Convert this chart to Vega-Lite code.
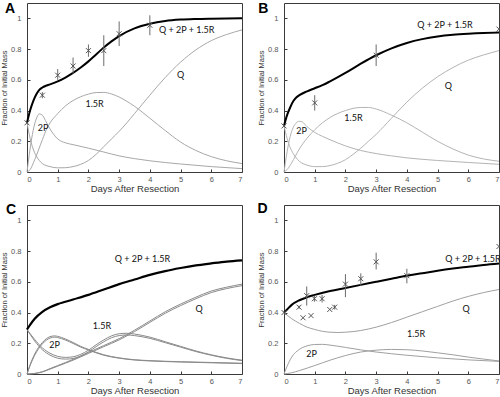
{
"$schema": "https://vega.github.io/schema/vega-lite/v6.json",
"padding": {"left": 0, "top": 1, "right": 0, "bottom": 0},
"background": "white",
"config": {
  "font": "Liberation Sans",
  "view": {"stroke": "#3a3a3a", "strokeWidth": 1},
  "axis": {"domain": false, "grid": false, "ticks": true, "tickSize": -3, "tickColor": "#3a3a3a", "labelFont": "Liberation Sans", "labelFontSize": 7.5, "labelColor": "#555555", "titleFont": "Liberation Sans", "titleFontWeight": "normal", "titleColor": "#333333"},
  "axisX": {"labelPadding": 6, "titleFontSize": 9.5, "titlePadding": 1},
  "axisY": {"labelPadding": 9, "titleFontSize": 7.5, "titlePadding": 2}
},
"datasets": {
"curves": [
{"p":"A","s":"sum","x":0,"y":0.32},{"p":"A","s":"sum","x":0.1,"y":0.4},{"p":"A","s":"sum","x":0.2,"y":0.46},{"p":"A","s":"sum","x":0.3,"y":0.505},{"p":"A","s":"sum","x":0.4,"y":0.535},{"p":"A","s":"sum","x":0.5,"y":0.55},{"p":"A","s":"sum","x":0.6,"y":0.56},{"p":"A","s":"sum","x":0.75,"y":0.57},{"p":"A","s":"sum","x":1,"y":0.59},{"p":"A","s":"sum","x":1.25,"y":0.615},{"p":"A","s":"sum","x":1.5,"y":0.645},{"p":"A","s":"sum","x":1.75,"y":0.68},{"p":"A","s":"sum","x":2,"y":0.72},{"p":"A","s":"sum","x":2.25,"y":0.765},{"p":"A","s":"sum","x":2.5,"y":0.81},{"p":"A","s":"sum","x":2.75,"y":0.85},{"p":"A","s":"sum","x":3,"y":0.885},{"p":"A","s":"sum","x":3.5,"y":0.935},{"p":"A","s":"sum","x":4,"y":0.965},{"p":"A","s":"sum","x":4.5,"y":0.983},{"p":"A","s":"sum","x":5,"y":0.992},{"p":"A","s":"sum","x":5.5,"y":0.996},{"p":"A","s":"sum","x":6,"y":0.998},{"p":"A","s":"sum","x":7,"y":1.0},
{"p":"A","s":"Q","x":0,"y":0.32},{"p":"A","s":"Q","x":0.1,"y":0.22},{"p":"A","s":"Q","x":0.2,"y":0.15},{"p":"A","s":"Q","x":0.3,"y":0.105},{"p":"A","s":"Q","x":0.4,"y":0.075},{"p":"A","s":"Q","x":0.5,"y":0.055},{"p":"A","s":"Q","x":0.75,"y":0.035},{"p":"A","s":"Q","x":1,"y":0.027},{"p":"A","s":"Q","x":1.25,"y":0.028},{"p":"A","s":"Q","x":1.5,"y":0.035},{"p":"A","s":"Q","x":1.75,"y":0.05},{"p":"A","s":"Q","x":2,"y":0.075},{"p":"A","s":"Q","x":2.25,"y":0.115},{"p":"A","s":"Q","x":2.5,"y":0.165},{"p":"A","s":"Q","x":2.75,"y":0.215},{"p":"A","s":"Q","x":3,"y":0.265},{"p":"A","s":"Q","x":3.25,"y":0.32},{"p":"A","s":"Q","x":3.5,"y":0.38},{"p":"A","s":"Q","x":3.75,"y":0.44},{"p":"A","s":"Q","x":4,"y":0.5},{"p":"A","s":"Q","x":4.5,"y":0.615},{"p":"A","s":"Q","x":5,"y":0.715},{"p":"A","s":"Q","x":5.5,"y":0.795},{"p":"A","s":"Q","x":6,"y":0.855},{"p":"A","s":"Q","x":6.5,"y":0.895},{"p":"A","s":"Q","x":7,"y":0.925},
{"p":"A","s":"2P","x":0,"y":0},{"p":"A","s":"2P","x":0.1,"y":0.15},{"p":"A","s":"2P","x":0.2,"y":0.27},{"p":"A","s":"2P","x":0.3,"y":0.345},{"p":"A","s":"2P","x":0.4,"y":0.378},{"p":"A","s":"2P","x":0.5,"y":0.37},{"p":"A","s":"2P","x":0.6,"y":0.335},{"p":"A","s":"2P","x":0.75,"y":0.28},{"p":"A","s":"2P","x":1,"y":0.215},{"p":"A","s":"2P","x":1.25,"y":0.19},{"p":"A","s":"2P","x":1.5,"y":0.178},{"p":"A","s":"2P","x":2,"y":0.155},{"p":"A","s":"2P","x":2.5,"y":0.13},{"p":"A","s":"2P","x":3,"y":0.105},{"p":"A","s":"2P","x":3.5,"y":0.087},{"p":"A","s":"2P","x":4,"y":0.073},{"p":"A","s":"2P","x":5,"y":0.052},{"p":"A","s":"2P","x":6,"y":0.035},{"p":"A","s":"2P","x":7,"y":0.022},
{"p":"A","s":"R","x":0,"y":0},{"p":"A","s":"R","x":0.1,"y":0.015},{"p":"A","s":"R","x":0.25,"y":0.08},{"p":"A","s":"R","x":0.5,"y":0.21},{"p":"A","s":"R","x":0.65,"y":0.285},{"p":"A","s":"R","x":0.75,"y":0.32},{"p":"A","s":"R","x":1,"y":0.38},{"p":"A","s":"R","x":1.25,"y":0.43},{"p":"A","s":"R","x":1.5,"y":0.465},{"p":"A","s":"R","x":1.75,"y":0.49},{"p":"A","s":"R","x":2,"y":0.507},{"p":"A","s":"R","x":2.25,"y":0.517},{"p":"A","s":"R","x":2.5,"y":0.518},{"p":"A","s":"R","x":2.75,"y":0.508},{"p":"A","s":"R","x":3,"y":0.488},{"p":"A","s":"R","x":3.25,"y":0.46},{"p":"A","s":"R","x":3.5,"y":0.428},{"p":"A","s":"R","x":3.75,"y":0.39},{"p":"A","s":"R","x":4,"y":0.35},{"p":"A","s":"R","x":4.5,"y":0.27},{"p":"A","s":"R","x":5,"y":0.195},{"p":"A","s":"R","x":5.5,"y":0.14},{"p":"A","s":"R","x":6,"y":0.1},{"p":"A","s":"R","x":6.5,"y":0.073},{"p":"A","s":"R","x":7,"y":0.055},
{"p":"B","s":"sum","x":0,"y":0.3},{"p":"B","s":"sum","x":0.1,"y":0.37},{"p":"B","s":"sum","x":0.2,"y":0.42},{"p":"B","s":"sum","x":0.3,"y":0.46},{"p":"B","s":"sum","x":0.4,"y":0.485},{"p":"B","s":"sum","x":0.5,"y":0.5},{"p":"B","s":"sum","x":0.75,"y":0.525},{"p":"B","s":"sum","x":1,"y":0.545},{"p":"B","s":"sum","x":1.25,"y":0.565},{"p":"B","s":"sum","x":1.5,"y":0.59},{"p":"B","s":"sum","x":2,"y":0.645},{"p":"B","s":"sum","x":2.5,"y":0.705},{"p":"B","s":"sum","x":3,"y":0.76},{"p":"B","s":"sum","x":3.5,"y":0.805},{"p":"B","s":"sum","x":4,"y":0.84},{"p":"B","s":"sum","x":4.5,"y":0.865},{"p":"B","s":"sum","x":5,"y":0.882},{"p":"B","s":"sum","x":5.5,"y":0.893},{"p":"B","s":"sum","x":6,"y":0.9},{"p":"B","s":"sum","x":6.5,"y":0.905},{"p":"B","s":"sum","x":7,"y":0.908},
{"p":"B","s":"Q","x":0,"y":0.3},{"p":"B","s":"Q","x":0.1,"y":0.22},{"p":"B","s":"Q","x":0.2,"y":0.16},{"p":"B","s":"Q","x":0.3,"y":0.12},{"p":"B","s":"Q","x":0.5,"y":0.07},{"p":"B","s":"Q","x":0.75,"y":0.045},{"p":"B","s":"Q","x":1,"y":0.035},{"p":"B","s":"Q","x":1.25,"y":0.035},{"p":"B","s":"Q","x":1.5,"y":0.042},{"p":"B","s":"Q","x":1.75,"y":0.057},{"p":"B","s":"Q","x":2,"y":0.08},{"p":"B","s":"Q","x":2.25,"y":0.115},{"p":"B","s":"Q","x":2.5,"y":0.155},{"p":"B","s":"Q","x":2.75,"y":0.2},{"p":"B","s":"Q","x":3,"y":0.245},{"p":"B","s":"Q","x":3.5,"y":0.35},{"p":"B","s":"Q","x":4,"y":0.455},{"p":"B","s":"Q","x":4.5,"y":0.545},{"p":"B","s":"Q","x":5,"y":0.62},{"p":"B","s":"Q","x":5.5,"y":0.68},{"p":"B","s":"Q","x":6,"y":0.728},{"p":"B","s":"Q","x":6.5,"y":0.762},{"p":"B","s":"Q","x":7,"y":0.79},
{"p":"B","s":"2P","x":0,"y":0},{"p":"B","s":"2P","x":0.1,"y":0.13},{"p":"B","s":"2P","x":0.2,"y":0.23},{"p":"B","s":"2P","x":0.3,"y":0.29},{"p":"B","s":"2P","x":0.4,"y":0.32},{"p":"B","s":"2P","x":0.5,"y":0.33},{"p":"B","s":"2P","x":0.6,"y":0.325},{"p":"B","s":"2P","x":0.75,"y":0.295},{"p":"B","s":"2P","x":1,"y":0.258},{"p":"B","s":"2P","x":1.25,"y":0.232},{"p":"B","s":"2P","x":1.5,"y":0.21},{"p":"B","s":"2P","x":2,"y":0.17},{"p":"B","s":"2P","x":2.5,"y":0.14},{"p":"B","s":"2P","x":3,"y":0.12},{"p":"B","s":"2P","x":3.5,"y":0.105},{"p":"B","s":"2P","x":4,"y":0.092},{"p":"B","s":"2P","x":5,"y":0.075},{"p":"B","s":"2P","x":6,"y":0.062},{"p":"B","s":"2P","x":7,"y":0.05},
{"p":"B","s":"R","x":0,"y":0},{"p":"B","s":"R","x":0.1,"y":0.015},{"p":"B","s":"R","x":0.25,"y":0.06},{"p":"B","s":"R","x":0.5,"y":0.15},{"p":"B","s":"R","x":0.75,"y":0.22},{"p":"B","s":"R","x":1,"y":0.275},{"p":"B","s":"R","x":1.25,"y":0.32},{"p":"B","s":"R","x":1.5,"y":0.355},{"p":"B","s":"R","x":2,"y":0.4},{"p":"B","s":"R","x":2.5,"y":0.42},{"p":"B","s":"R","x":2.75,"y":0.42},{"p":"B","s":"R","x":3,"y":0.41},{"p":"B","s":"R","x":3.5,"y":0.37},{"p":"B","s":"R","x":4,"y":0.32},{"p":"B","s":"R","x":4.5,"y":0.26},{"p":"B","s":"R","x":5,"y":0.2},{"p":"B","s":"R","x":5.5,"y":0.15},{"p":"B","s":"R","x":6,"y":0.11},{"p":"B","s":"R","x":6.5,"y":0.085},{"p":"B","s":"R","x":7,"y":0.07},
{"p":"C","s":"sum","x":0,"y":0.29},{"p":"C","s":"sum","x":0.1,"y":0.32},{"p":"C","s":"sum","x":0.25,"y":0.36},{"p":"C","s":"sum","x":0.5,"y":0.405},{"p":"C","s":"sum","x":0.75,"y":0.435},{"p":"C","s":"sum","x":1,"y":0.455},{"p":"C","s":"sum","x":1.25,"y":0.47},{"p":"C","s":"sum","x":1.5,"y":0.485},{"p":"C","s":"sum","x":2,"y":0.515},{"p":"C","s":"sum","x":2.5,"y":0.55},{"p":"C","s":"sum","x":3,"y":0.585},{"p":"C","s":"sum","x":3.5,"y":0.615},{"p":"C","s":"sum","x":4,"y":0.645},{"p":"C","s":"sum","x":4.5,"y":0.67},{"p":"C","s":"sum","x":5,"y":0.69},{"p":"C","s":"sum","x":5.5,"y":0.707},{"p":"C","s":"sum","x":6,"y":0.72},{"p":"C","s":"sum","x":6.5,"y":0.732},{"p":"C","s":"sum","x":7,"y":0.74},
{"p":"C","s":"R","x":0,"y":0.29},{"p":"C","s":"R","x":0.25,"y":0.225},{"p":"C","s":"R","x":0.5,"y":0.17},{"p":"C","s":"R","x":0.75,"y":0.135},{"p":"C","s":"R","x":1,"y":0.115},{"p":"C","s":"R","x":1.25,"y":0.108},{"p":"C","s":"R","x":1.5,"y":0.112},{"p":"C","s":"R","x":1.75,"y":0.128},{"p":"C","s":"R","x":2,"y":0.155},{"p":"C","s":"R","x":2.25,"y":0.19},{"p":"C","s":"R","x":2.5,"y":0.222},{"p":"C","s":"R","x":2.75,"y":0.248},{"p":"C","s":"R","x":3,"y":0.262},{"p":"C","s":"R","x":3.25,"y":0.265},{"p":"C","s":"R","x":3.5,"y":0.26},{"p":"C","s":"R","x":4,"y":0.24},{"p":"C","s":"R","x":4.5,"y":0.21},{"p":"C","s":"R","x":5,"y":0.18},{"p":"C","s":"R","x":5.5,"y":0.15},{"p":"C","s":"R","x":6,"y":0.125},{"p":"C","s":"R","x":6.5,"y":0.105},{"p":"C","s":"R","x":7,"y":0.09},
{"p":"C","s":"R2","x":0,"y":0.29},{"p":"C","s":"R2","x":0.25,"y":0.215},{"p":"C","s":"R2","x":0.5,"y":0.158},{"p":"C","s":"R2","x":0.75,"y":0.123},{"p":"C","s":"R2","x":1,"y":0.103},{"p":"C","s":"R2","x":1.25,"y":0.097},{"p":"C","s":"R2","x":1.5,"y":0.101},{"p":"C","s":"R2","x":1.75,"y":0.117},{"p":"C","s":"R2","x":2,"y":0.144},{"p":"C","s":"R2","x":2.25,"y":0.178},{"p":"C","s":"R2","x":2.5,"y":0.21},{"p":"C","s":"R2","x":2.75,"y":0.236},{"p":"C","s":"R2","x":3,"y":0.25},{"p":"C","s":"R2","x":3.25,"y":0.254},{"p":"C","s":"R2","x":3.5,"y":0.25},{"p":"C","s":"R2","x":4,"y":0.232},{"p":"C","s":"R2","x":4.5,"y":0.204},{"p":"C","s":"R2","x":5,"y":0.175},{"p":"C","s":"R2","x":5.5,"y":0.146},{"p":"C","s":"R2","x":6,"y":0.122},{"p":"C","s":"R2","x":6.5,"y":0.102},{"p":"C","s":"R2","x":7,"y":0.087},
{"p":"C","s":"2P","x":0,"y":0},{"p":"C","s":"2P","x":0.1,"y":0.06},{"p":"C","s":"2P","x":0.25,"y":0.13},{"p":"C","s":"2P","x":0.5,"y":0.205},{"p":"C","s":"2P","x":0.75,"y":0.243},{"p":"C","s":"2P","x":0.9,"y":0.248},{"p":"C","s":"2P","x":1,"y":0.245},{"p":"C","s":"2P","x":1.25,"y":0.228},{"p":"C","s":"2P","x":1.5,"y":0.205},{"p":"C","s":"2P","x":1.75,"y":0.18},{"p":"C","s":"2P","x":2,"y":0.16},{"p":"C","s":"2P","x":2.5,"y":0.125},{"p":"C","s":"2P","x":3,"y":0.105},{"p":"C","s":"2P","x":3.5,"y":0.093},{"p":"C","s":"2P","x":4,"y":0.087},{"p":"C","s":"2P","x":5,"y":0.08},{"p":"C","s":"2P","x":6,"y":0.075},{"p":"C","s":"2P","x":7,"y":0.07},
{"p":"C","s":"2P2","x":0,"y":0},{"p":"C","s":"2P2","x":0.1,"y":0.055},{"p":"C","s":"2P2","x":0.25,"y":0.122},{"p":"C","s":"2P2","x":0.5,"y":0.196},{"p":"C","s":"2P2","x":0.75,"y":0.234},{"p":"C","s":"2P2","x":0.9,"y":0.24},{"p":"C","s":"2P2","x":1,"y":0.237},{"p":"C","s":"2P2","x":1.25,"y":0.221},{"p":"C","s":"2P2","x":1.5,"y":0.199},{"p":"C","s":"2P2","x":1.75,"y":0.175},{"p":"C","s":"2P2","x":2,"y":0.156},{"p":"C","s":"2P2","x":2.5,"y":0.122},{"p":"C","s":"2P2","x":3,"y":0.103},{"p":"C","s":"2P2","x":3.5,"y":0.091},{"p":"C","s":"2P2","x":4,"y":0.085},{"p":"C","s":"2P2","x":5,"y":0.078},{"p":"C","s":"2P2","x":6,"y":0.073},{"p":"C","s":"2P2","x":7,"y":0.068},
{"p":"C","s":"Q","x":0,"y":0},{"p":"C","s":"Q","x":0.25,"y":0.004},{"p":"C","s":"Q","x":0.5,"y":0.015},{"p":"C","s":"Q","x":0.75,"y":0.035},{"p":"C","s":"Q","x":1,"y":0.055},{"p":"C","s":"Q","x":1.5,"y":0.095},{"p":"C","s":"Q","x":2,"y":0.14},{"p":"C","s":"Q","x":2.5,"y":0.185},{"p":"C","s":"Q","x":3,"y":0.23},{"p":"C","s":"Q","x":3.5,"y":0.285},{"p":"C","s":"Q","x":4,"y":0.345},{"p":"C","s":"Q","x":4.5,"y":0.405},{"p":"C","s":"Q","x":5,"y":0.455},{"p":"C","s":"Q","x":5.5,"y":0.5},{"p":"C","s":"Q","x":6,"y":0.54},{"p":"C","s":"Q","x":6.5,"y":0.565},{"p":"C","s":"Q","x":7,"y":0.585},
{"p":"C","s":"Q2","x":0,"y":0},{"p":"C","s":"Q2","x":0.25,"y":0.003},{"p":"C","s":"Q2","x":0.5,"y":0.013},{"p":"C","s":"Q2","x":0.75,"y":0.032},{"p":"C","s":"Q2","x":1,"y":0.051},{"p":"C","s":"Q2","x":1.5,"y":0.09},{"p":"C","s":"Q2","x":2,"y":0.134},{"p":"C","s":"Q2","x":2.5,"y":0.178},{"p":"C","s":"Q2","x":3,"y":0.222},{"p":"C","s":"Q2","x":3.5,"y":0.276},{"p":"C","s":"Q2","x":4,"y":0.336},{"p":"C","s":"Q2","x":4.5,"y":0.395},{"p":"C","s":"Q2","x":5,"y":0.445},{"p":"C","s":"Q2","x":5.5,"y":0.49},{"p":"C","s":"Q2","x":6,"y":0.53},{"p":"C","s":"Q2","x":6.5,"y":0.556},{"p":"C","s":"Q2","x":7,"y":0.575},
{"p":"D","s":"sum","x":0,"y":0.4},{"p":"D","s":"sum","x":0.1,"y":0.42},{"p":"D","s":"sum","x":0.25,"y":0.45},{"p":"D","s":"sum","x":0.5,"y":0.48},{"p":"D","s":"sum","x":0.75,"y":0.5},{"p":"D","s":"sum","x":1,"y":0.515},{"p":"D","s":"sum","x":1.5,"y":0.54},{"p":"D","s":"sum","x":2,"y":0.56},{"p":"D","s":"sum","x":2.5,"y":0.58},{"p":"D","s":"sum","x":3,"y":0.6},{"p":"D","s":"sum","x":3.5,"y":0.62},{"p":"D","s":"sum","x":4,"y":0.64},{"p":"D","s":"sum","x":4.5,"y":0.656},{"p":"D","s":"sum","x":5,"y":0.672},{"p":"D","s":"sum","x":5.5,"y":0.686},{"p":"D","s":"sum","x":6,"y":0.698},{"p":"D","s":"sum","x":6.5,"y":0.71},{"p":"D","s":"sum","x":7,"y":0.72},
{"p":"D","s":"Q","x":0,"y":0.4},{"p":"D","s":"Q","x":0.25,"y":0.36},{"p":"D","s":"Q","x":0.5,"y":0.33},{"p":"D","s":"Q","x":0.75,"y":0.305},{"p":"D","s":"Q","x":1,"y":0.29},{"p":"D","s":"Q","x":1.25,"y":0.278},{"p":"D","s":"Q","x":1.5,"y":0.272},{"p":"D","s":"Q","x":1.75,"y":0.27},{"p":"D","s":"Q","x":2,"y":0.272},{"p":"D","s":"Q","x":2.5,"y":0.283},{"p":"D","s":"Q","x":3,"y":0.305},{"p":"D","s":"Q","x":3.5,"y":0.335},{"p":"D","s":"Q","x":4,"y":0.37},{"p":"D","s":"Q","x":4.5,"y":0.405},{"p":"D","s":"Q","x":5,"y":0.44},{"p":"D","s":"Q","x":5.5,"y":0.475},{"p":"D","s":"Q","x":6,"y":0.505},{"p":"D","s":"Q","x":6.5,"y":0.53},{"p":"D","s":"Q","x":7,"y":0.55},
{"p":"D","s":"2P","x":0,"y":0},{"p":"D","s":"2P","x":0.1,"y":0.05},{"p":"D","s":"2P","x":0.25,"y":0.11},{"p":"D","s":"2P","x":0.5,"y":0.16},{"p":"D","s":"2P","x":0.75,"y":0.183},{"p":"D","s":"2P","x":1,"y":0.192},{"p":"D","s":"2P","x":1.25,"y":0.193},{"p":"D","s":"2P","x":1.5,"y":0.188},{"p":"D","s":"2P","x":2,"y":0.173},{"p":"D","s":"2P","x":2.5,"y":0.157},{"p":"D","s":"2P","x":3,"y":0.143},{"p":"D","s":"2P","x":3.5,"y":0.132},{"p":"D","s":"2P","x":4,"y":0.122},{"p":"D","s":"2P","x":5,"y":0.105},{"p":"D","s":"2P","x":6,"y":0.092},{"p":"D","s":"2P","x":7,"y":0.082},
{"p":"D","s":"R","x":0,"y":0},{"p":"D","s":"R","x":0.25,"y":0.008},{"p":"D","s":"R","x":0.5,"y":0.022},{"p":"D","s":"R","x":1,"y":0.055},{"p":"D","s":"R","x":1.5,"y":0.09},{"p":"D","s":"R","x":2,"y":0.12},{"p":"D","s":"R","x":2.5,"y":0.143},{"p":"D","s":"R","x":3,"y":0.155},{"p":"D","s":"R","x":3.5,"y":0.16},{"p":"D","s":"R","x":4,"y":0.158},{"p":"D","s":"R","x":4.5,"y":0.15},{"p":"D","s":"R","x":5,"y":0.138},{"p":"D","s":"R","x":5.5,"y":0.125},{"p":"D","s":"R","x":6,"y":0.11},{"p":"D","s":"R","x":6.5,"y":0.097},{"p":"D","s":"R","x":7,"y":0.085}
],
"pts": [
{"p":"A","x":0,"y":0.32},{"p":"A","x":0.5,"y":0.5,"lo":0.48,"hi":0.52},{"p":"A","x":1,"y":0.63,"lo":0.6,"hi":0.67},{"p":"A","x":1.5,"y":0.69,"lo":0.64,"hi":0.745},{"p":"A","x":2,"y":0.79,"lo":0.75,"hi":0.83},{"p":"A","x":2.5,"y":0.79,"lo":0.69,"hi":0.89},{"p":"A","x":3,"y":0.9,"lo":0.82,"hi":0.98},{"p":"A","x":4,"y":0.955,"lo":0.89,"hi":1.02},
{"p":"B","x":0,"y":0.3},{"p":"B","x":1,"y":0.45,"lo":0.4,"hi":0.5},{"p":"B","x":3,"y":0.76,"lo":0.69,"hi":0.83},{"p":"B","x":7,"y":0.93},
{"p":"D","x":0,"y":0.4},{"p":"D","x":0.49,"y":0.435,"lo":0.425,"hi":0.445},{"p":"D","x":0.62,"y":0.366},{"p":"D","x":0.74,"y":0.51,"lo":0.445,"hi":0.57},{"p":"D","x":0.88,"y":0.38},{"p":"D","x":0.99,"y":0.49,"lo":0.47,"hi":0.51},{"p":"D","x":1.24,"y":0.49,"lo":0.465,"hi":0.515},{"p":"D","x":1.49,"y":0.42},{"p":"D","x":1.65,"y":0.435,"lo":0.42,"hi":0.45},{"p":"D","x":2,"y":0.585,"lo":0.5,"hi":0.65},{"p":"D","x":2.5,"y":0.62,"lo":0.575,"hi":0.655},{"p":"D","x":3,"y":0.73,"lo":0.68,"hi":0.79},{"p":"D","x":4,"y":0.64,"lo":0.59,"hi":0.685},{"p":"D","x":7,"y":0.83}
],
"lbl": [
{"p":"A","x":5.2,"y":0.925,"t":"Q + 2P + 1.5R"},{"p":"A","x":5.0,"y":0.63,"t":"Q"},{"p":"A","x":0.52,"y":0.287,"t":"2P"},{"p":"A","x":2.2,"y":0.44,"t":"1.5R"},
{"p":"B","x":5.24,"y":0.957,"t":"Q + 2P + 1.5R"},{"p":"B","x":5.35,"y":0.557,"t":"Q"},{"p":"B","x":0.57,"y":0.266,"t":"2P"},{"p":"B","x":2.26,"y":0.35,"t":"1.5R"},
{"p":"C","x":3.76,"y":0.75,"t":"Q + 2P + 1.5R"},{"p":"C","x":5.6,"y":0.42,"t":"Q"},{"p":"C","x":0.9,"y":0.19,"t":"2P"},{"p":"C","x":2.44,"y":0.31,"t":"1.5R"},
{"p":"D","x":6.15,"y":0.75,"t":"Q + 2P + 1.5R"},{"p":"D","x":5.93,"y":0.42,"t":"Q"},{"p":"D","x":0.9,"y":0.128,"t":"2P"},{"p":"D","x":4.3,"y":0.26,"t":"1.5R"}
],
"letters": [
{"p":"A","x":-0.55,"y":1.06,"t":"A"},{"p":"B","x":-0.67,"y":1.06,"t":"B"},{"p":"C","x":-0.52,"y":1.07,"t":"C"},{"p":"D","x":-0.7,"y":1.075,"t":"D"}
]
},
"columns": 2,
"bounds": "flush",
"spacing": {"row": 33, "column": 42},
"concat": [
{
 "width": 215, "height": 169,
 "encoding": {
  "x": {"field": "x", "type": "quantitative", "scale": {"domain": [0, 7], "nice": false}, "axis": {"values": [0,1,2,3,4,5,6,7], "title": "Days After Resection"}},
  "y": {"field": "y", "type": "quantitative", "scale": {"domain": [0, 1.1], "nice": false}, "axis": {"values": [0,0.2,0.4,0.6,0.8,1], "format": "~g", "title": "Fraction of Initial Mass"}}
 },
 "layer": [
  {"data": {"name": "curves"}, "transform": [{"filter": "datum.p == 'A' && datum.s != 'sum'"}], "mark": {"type": "line", "interpolate": "monotone", "color": "#a8a8a8", "strokeWidth": 1}, "encoding": {"detail": {"field": "s"}}},
  {"data": {"name": "curves"}, "transform": [{"filter": "datum.p == 'A' && datum.s == 'sum'"}], "mark": {"type": "line", "interpolate": "monotone", "color": "#000000", "strokeWidth": 2}},
  {"data": {"name": "pts"}, "transform": [{"filter": "datum.p == 'A' && isValid(datum.lo)"}], "mark": {"type": "rule", "color": "#6a6a6a", "strokeWidth": 1}, "encoding": {"y": {"field": "lo", "type": "quantitative", "title": "Fraction of Initial Mass"}, "y2": {"field": "hi"}}},
  {"data": {"name": "pts"}, "transform": [{"filter": "datum.p == 'A'"}], "mark": {"type": "point", "shape": "M-1,-1L1,1M1,-1L-1,1", "size": 25, "filled": false, "stroke": "#555555", "strokeWidth": 1, "opacity": 1}},
  {"data": {"name": "lbl"}, "transform": [{"filter": "datum.p == 'A'"}], "mark": {"type": "text", "font": "Lato", "fontSize": 9, "color": "#111111", "align": "center", "baseline": "middle"}, "encoding": {"text": {"field": "t"}}},
  {"data": {"name": "letters"}, "transform": [{"filter": "datum.p == 'A'"}], "mark": {"type": "text", "font": "Liberation Sans", "fontSize": 14, "fontWeight": "bold", "color": "#000000", "align": "center", "baseline": "middle"}, "encoding": {"text": {"field": "t"}}}
 ]
},
{
 "width": 215, "height": 169,
 "encoding": {
  "x": {"field": "x", "type": "quantitative", "scale": {"domain": [0, 7], "nice": false}, "axis": {"values": [0,1,2,3,4,5,6,7], "title": "Days After Resection"}},
  "y": {"field": "y", "type": "quantitative", "scale": {"domain": [0, 1.1], "nice": false}, "axis": {"values": [0,0.2,0.4,0.6,0.8,1], "format": "~g", "title": "Fraction of Initial Mass"}}
 },
 "layer": [
  {"data": {"name": "curves"}, "transform": [{"filter": "datum.p == 'B' && datum.s != 'sum'"}], "mark": {"type": "line", "interpolate": "monotone", "color": "#b4b4b4", "strokeWidth": 1}, "encoding": {"detail": {"field": "s"}}},
  {"data": {"name": "curves"}, "transform": [{"filter": "datum.p == 'B' && datum.s == 'sum'"}], "mark": {"type": "line", "interpolate": "monotone", "color": "#000000", "strokeWidth": 2}},
  {"data": {"name": "pts"}, "transform": [{"filter": "datum.p == 'B' && isValid(datum.lo)"}], "mark": {"type": "rule", "color": "#6a6a6a", "strokeWidth": 1}, "encoding": {"y": {"field": "lo", "type": "quantitative", "title": "Fraction of Initial Mass"}, "y2": {"field": "hi"}}},
  {"data": {"name": "pts"}, "transform": [{"filter": "datum.p == 'B'"}], "mark": {"type": "point", "shape": "M-1,-1L1,1M1,-1L-1,1", "size": 25, "filled": false, "stroke": "#555555", "strokeWidth": 1, "opacity": 1}},
  {"data": {"name": "lbl"}, "transform": [{"filter": "datum.p == 'B'"}], "mark": {"type": "text", "font": "Lato", "fontSize": 9, "color": "#111111", "align": "center", "baseline": "middle"}, "encoding": {"text": {"field": "t"}}},
  {"data": {"name": "letters"}, "transform": [{"filter": "datum.p == 'B'"}], "mark": {"type": "text", "font": "Liberation Sans", "fontSize": 14, "fontWeight": "bold", "color": "#000000", "align": "center", "baseline": "middle"}, "encoding": {"text": {"field": "t"}}}
 ]
},
{
 "width": 215, "height": 169,
 "encoding": {
  "x": {"field": "x", "type": "quantitative", "scale": {"domain": [0, 7], "nice": false}, "axis": {"values": [0,1,2,3,4,5,6,7], "title": "Days After Resection"}},
  "y": {"field": "y", "type": "quantitative", "scale": {"domain": [0, 1.1], "nice": false}, "axis": {"values": [0,0.2,0.4,0.6,0.8,1], "format": "~g", "title": "Fraction of Initial Mass"}}
 },
 "layer": [
  {"data": {"name": "curves"}, "transform": [{"filter": "datum.p == 'C' && datum.s != 'sum'"}], "mark": {"type": "line", "interpolate": "monotone", "color": "#8a8a8a", "strokeWidth": 1}, "encoding": {"detail": {"field": "s"}}},
  {"data": {"name": "curves"}, "transform": [{"filter": "datum.p == 'C' && datum.s == 'sum'"}], "mark": {"type": "line", "interpolate": "monotone", "color": "#000000", "strokeWidth": 2.2}},
  {"data": {"name": "lbl"}, "transform": [{"filter": "datum.p == 'C'"}], "mark": {"type": "text", "font": "Lato", "fontSize": 9, "color": "#111111", "align": "center", "baseline": "middle"}, "encoding": {"text": {"field": "t"}}},
  {"data": {"name": "letters"}, "transform": [{"filter": "datum.p == 'C'"}], "mark": {"type": "text", "font": "Liberation Sans", "fontSize": 14, "fontWeight": "bold", "color": "#000000", "align": "center", "baseline": "middle"}, "encoding": {"text": {"field": "t"}}}
 ]
},
{
 "width": 215, "height": 169,
 "encoding": {
  "x": {"field": "x", "type": "quantitative", "scale": {"domain": [0, 7], "nice": false}, "axis": {"values": [0,1,2,3,4,5,6,7], "title": "Days After Resection"}},
  "y": {"field": "y", "type": "quantitative", "scale": {"domain": [0, 1.1], "nice": false}, "axis": {"values": [0,0.2,0.4,0.6,0.8,1], "format": "~g", "title": "Fraction of Initial Mass"}}
 },
 "layer": [
  {"data": {"name": "curves"}, "transform": [{"filter": "datum.p == 'D' && datum.s != 'sum'"}], "mark": {"type": "line", "interpolate": "monotone", "color": "#a0a0a0", "strokeWidth": 1}, "encoding": {"detail": {"field": "s"}}},
  {"data": {"name": "curves"}, "transform": [{"filter": "datum.p == 'D' && datum.s == 'sum'"}], "mark": {"type": "line", "interpolate": "monotone", "color": "#000000", "strokeWidth": 2}},
  {"data": {"name": "pts"}, "transform": [{"filter": "datum.p == 'D' && isValid(datum.lo)"}], "mark": {"type": "rule", "color": "#6a6a6a", "strokeWidth": 1}, "encoding": {"y": {"field": "lo", "type": "quantitative", "title": "Fraction of Initial Mass"}, "y2": {"field": "hi"}}},
  {"data": {"name": "pts"}, "transform": [{"filter": "datum.p == 'D'"}], "mark": {"type": "point", "shape": "M-1,-1L1,1M1,-1L-1,1", "size": 25, "filled": false, "stroke": "#555555", "strokeWidth": 1, "opacity": 1}},
  {"data": {"name": "lbl"}, "transform": [{"filter": "datum.p == 'D'"}], "mark": {"type": "text", "font": "Lato", "fontSize": 9, "color": "#111111", "align": "center", "baseline": "middle"}, "encoding": {"text": {"field": "t"}}},
  {"data": {"name": "letters"}, "transform": [{"filter": "datum.p == 'D'"}], "mark": {"type": "text", "font": "Liberation Sans", "fontSize": 14, "fontWeight": "bold", "color": "#000000", "align": "center", "baseline": "middle"}, "encoding": {"text": {"field": "t"}}}
 ]
}
]
}
